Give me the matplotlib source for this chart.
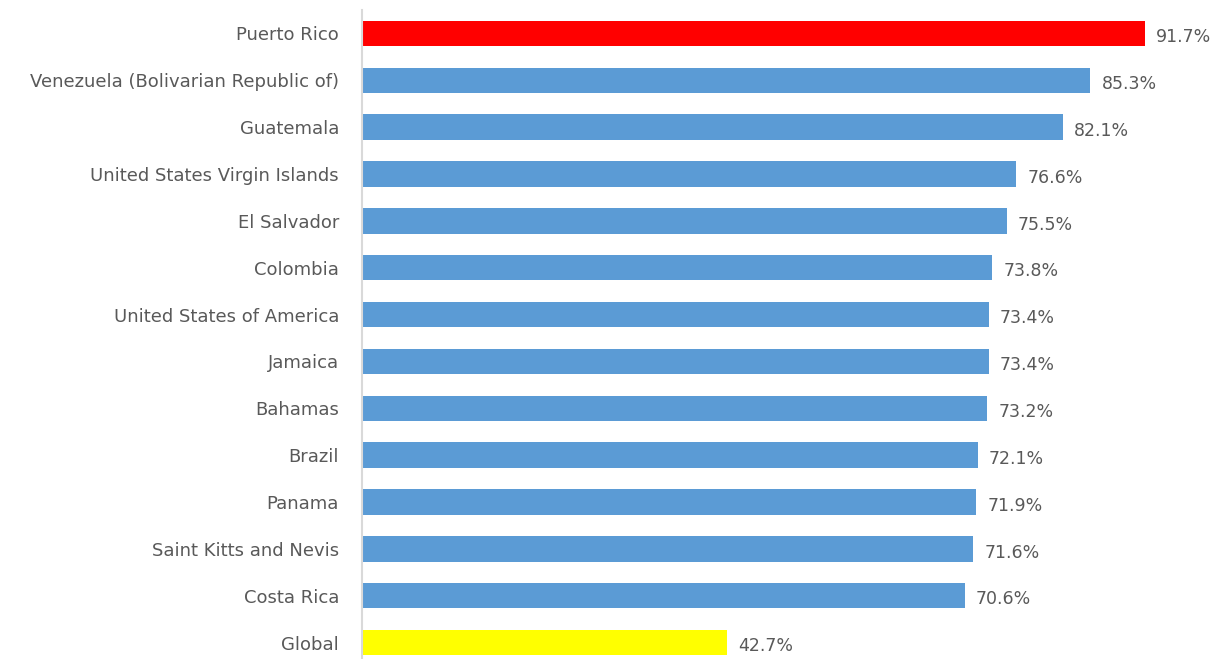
import matplotlib.pyplot as plt
import numpy as np

# datos
paises = ['Puerto Rico', 'Venezuela (Bolivarian Republic of)', 'Guatemala',
          'United States Virgin Islands', 'El Salvador', 'Colombia',
          'United States of America', 'Jamaica', 'Bahamas', 'Brazil',
          'Panama', 'Saint Kitts and Nevis', 'Costa Rica', 'Global']
valores = [91.7, 85.3, 82.1, 76.6, 75.5, 73.8, 73.4, 73.4, 73.2, 72.1,
           71.9, 71.6, 70.6, 42.7]
colores = ['#FF0000'] + ['#5B9BD5'] * 12 + ['#FFFF00']

plt.rcParams['font.family'] = ['DejaVu Sans']

fig = plt.figure(figsize=(12.16, 6.59), dpi=100)
ax = fig.add_axes([362 / 1216, -7 / 659, 1 - 362 / 1216, 656 / 659])

y = np.arange(len(paises))
ax.barh(y, valores, height=0.54, color=colores)
ax.set_ylim(len(paises) - 0.5, -0.5)
ax.set_xlim(0, 100)

for yi, v in zip(y, valores):
    ax.text(v + 1.3, yi + 0.08, f'{v:.1f}%', va='center', ha='left',
            fontsize=12.5, color='#595959')

ax.set_yticks(y)
ax.set_yticklabels(paises, fontsize=13, color='#595959')
ax.tick_params(axis='y', length=0, pad=16.5)
ax.set_xticks([])
for s in ['top', 'right', 'bottom']:
    ax.spines[s].set_visible(False)
ax.spines['left'].set_color('#D9D9D9')
ax.spines['left'].set_linewidth(1.5)

fig.savefig('out.png', dpi=100)
